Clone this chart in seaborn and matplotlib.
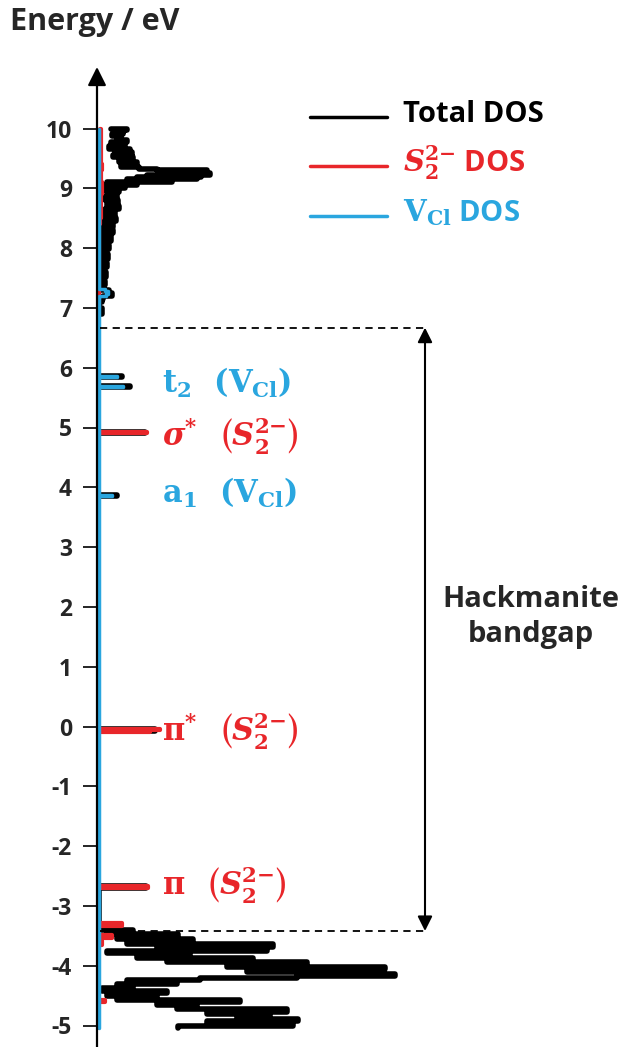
import matplotlib
matplotlib.use("Agg")
import matplotlib.pyplot as plt
import seaborn as sns
import numpy as np

# Total DOS (arbitrary units), energies in eV, listed top to bottom
total_E = [10.00, 9.98, 9.95, 9.92, 9.90, 9.87, 9.84, 9.80, 9.77, 9.73, 9.70, 9.66, 9.63, 9.60,
           9.56, 9.52, 9.48, 9.44, 9.40, 9.36, 9.33, 9.30, 9.28, 9.25, 9.23, 9.21, 9.19, 9.17,
           9.15, 9.13, 9.11, 9.08, 9.06, 9.03, 9.00, 8.97, 8.93, 8.89, 8.85, 8.80, 8.75, 8.70,
           8.65, 8.60, 8.55, 8.50, 8.45, 8.40, 8.35, 8.30, 8.25, 8.20, 8.12, 8.05, 7.98, 7.90,
           7.82, 7.75, 7.68, 7.60, 7.52, 7.45, 7.38, 7.30, 7.25, 7.20, 7.15, 7.10, 7.00, 6.90,
           6.80, 6.70,
           5.86, 5.84, 5.82, 5.69, 5.67, 5.65,
           4.93, 4.91, 4.89,
           3.87, 3.85, 3.83,
           -0.04, -0.07, -0.10,
           -2.66, -2.70, -2.72,
           -3.40, -3.43, -3.47, -3.50, -3.55, -3.60, -3.64, -3.68, -3.72, -3.76, -3.79, -3.83,
           -3.87, -3.90, -3.94, -3.98, -4.02, -4.06, -4.10, -4.14, -4.18, -4.21, -4.24, -4.28,
           -4.31, -4.34, -4.38, -4.42, -4.46, -4.50, -4.54, -4.58, -4.61, -4.65, -4.69, -4.73,
           -4.77, -4.81, -4.85, -4.89, -4.93, -4.97, -5.01, -5.05]
total_dos = [14, 30, 27, 18, 26, 15, 24, 20, 30, 14, 28, 12, 33, 18,
             35, 16, 36, 22, 40, 24, 42, 60, 110, 70, 113, 50, 104, 40,
             100, 30, 75, 10, 40, 6, 28, 8, 22, 10, 20, 8, 21, 10,
             22, 8, 18, 6, 19, 7, 16, 5, 16, 5, 14, 4, 12, 4,
             11, 3, 10, 3, 9, 3, 8, 3, 12, 15, 6, 5, 2, 5,
             1, 0,
             0, 25, 0, 0, 33, 0,
             0, 48, 0,
             0, 20, 0,
             0, 58, 0,
             0, 49, 0,
             2, 36, 10, 81, 20, 96, 30, 176, 60, 170, 10, 93,
             40, 156, 70, 210, 130, 288, 150, 280, 298, 200, 103, 30,
             80, 20, 36, 5, 70, 10, 60, 20, 143, 60, 100, 80,
             190, 110, 173, 140, 201, 110, 196, 81]

# S2(2-) projected DOS
s2_E = [10.00, 9.40, 9.30, 9.10, 8.90, 8.50, 8.40, 7.00, 6.70,
        4.93, 4.91, 4.89,
        -0.035, -0.065, -0.095, -0.11,
        -2.66, -2.70, -2.72,
        -3.29, -3.33, -3.36, -3.48, -3.53, -3.58, -3.66, -3.70,
        -4.57, -4.61, -4.64, -5.05]
s2_dos = [3, 4, 5, 4, 5, 4, 3, 2, 1,
          1, 50, 1,
          1, 63, 53, 1,
          1, 51, 1,
          1, 25, 1, 1, 15, 1, 5, 1,
          1, 8, 1, 1]

# V_Cl projected DOS
vcl_E = [10.00, 7.32, 7.28, 7.24, 7.20, 7.16, 5.86, 5.84, 5.82, 5.69, 5.67, 5.65,
         3.87, 3.85, 3.83, -5.05]
vcl_dos = [2, 2, 8, 11, 9, 2, 2, 20, 2, 2, 26, 2,
           2, 15, 2, 2]

yticks = list(range(-5, 11))
cbm, vbm = 6.67, -3.42

RED = "#e8262a"
BLUE = "#2aa6df"

sns.set_theme(style="white")
plt.rcParams["font.family"] = ["Open Sans", "DejaVu Sans"]
plt.rcParams["font.weight"] = "bold"
plt.rcParams["mathtext.fontset"] = "dejavuserif"
plt.rcParams["axes.unicode_minus"] = False

fig = plt.figure(figsize=(6.24, 10.47), dpi=100)
ax = fig.add_axes([97 / 624, 0, 527 / 624, 987 / 1047])

sns.lineplot(x=total_dos, y=total_E, sort=False, estimator=None, orient="y",
             drawstyle="steps-post", color="black", linewidth=4, ax=ax)
sns.lineplot(x=s2_dos, y=s2_E, sort=False, estimator=None, orient="y",
             drawstyle="steps-post", color=RED, linewidth=3, ax=ax)
sns.lineplot(x=vcl_dos, y=vcl_E, sort=False, estimator=None, orient="y",
             drawstyle="steps-post", color=BLUE, linewidth=2.5, ax=ax)

ylo, yhi = (726.5 - 1047) / 59.8, (726.5 - 60) / 59.8
ax.set_xlim(0, 527)
ax.set_ylim(ylo, yhi)
ax.set_yticks(yticks)
ax.set_xticks([])
ax.set_xlabel("")
ax.set_ylabel("")
for s in ax.spines.values():
    s.set_visible(False)
ax.tick_params(axis="y", direction="out", length=10, width=1.2, pad=8,
               labelsize=16.5, left=True, color="black")
for lab in ax.get_yticklabels():
    lab.set_fontweight("bold")

# energy axis with arrow
ax.annotate("", xy=(0, (726.5 - 67) / 59.8), xytext=(0, ylo),
            arrowprops=dict(arrowstyle="-|>", color="black", lw=1.6,
                            mutation_scale=28, shrinkA=0, shrinkB=0),
            annotation_clip=False)
fig.text(95 / 624, 1 - 22 / 1047, "Energy / eV", ha="center", va="center",
         fontsize=22, fontweight="bold")

# band edges and gap arrow
ax.plot([3, 331], [cbm, cbm], ls=(0, (4, 3)), color="black", lw=1.3)
ax.plot([3, 331], [vbm, vbm], ls=(0, (4, 3)), color="black", lw=1.3)
ax.annotate("", xy=(328, cbm), xytext=(328, vbm),
            arrowprops=dict(arrowstyle="<|-|>", color="black", lw=1.5,
                            mutation_scale=22, shrinkA=0, shrinkB=0))
ax.text(434, 1.83, "Hackmanite\nbandgap", ha="center", va="center",
        fontsize=21, fontweight="bold", linespacing=1.3)

# legend
leg = [("black", 10.19, "Total DOS"),
       (RED, 9.37, r"$\mathbfit{S}_{\mathbf{2}}^{\mathbf{2{-}}}$ DOS"),
       (BLUE, 8.54, r"$\mathbf{V}_{\mathbf{Cl}}$ DOS")]
for c, e, t in leg:
    ax.plot([213, 290], [e, e], color=c, lw=2.5)
    ax.text(306, e + 0.05, t, color=c, ha="left", va="center",
            fontsize=21, fontweight="bold")

# level labels
S22 = r"\left(\mathbfit{S}_{\mathbf{2}}^{\mathbf{2{-}}}\right)"
VCL = r"\left(\mathbf{V}_{\mathbf{Cl}}\right)"
labels = [(5.74, BLUE, r"$\mathbf{t}_{\mathbf{2}}\ \ " + VCL + "$"),
          (4.86, RED, r"$\boldsymbol{\sigma}^{*}\ \ " + S22 + "$"),
          (3.90, BLUE, r"$\mathbf{a}_{\mathbf{1}}\ \ " + VCL + "$"),
          (-0.06, RED, r"$\mathbf{\pi}^{*}\ \ " + S22 + "$"),
          (-2.65, RED, r"$\mathbf{\pi}\ \ " + S22 + "$")]
for e, c, t in labels:
    ax.text(65, e, t, color=c, ha="left", va="center", fontsize=22)

fig.savefig("out.png", dpi=100)
